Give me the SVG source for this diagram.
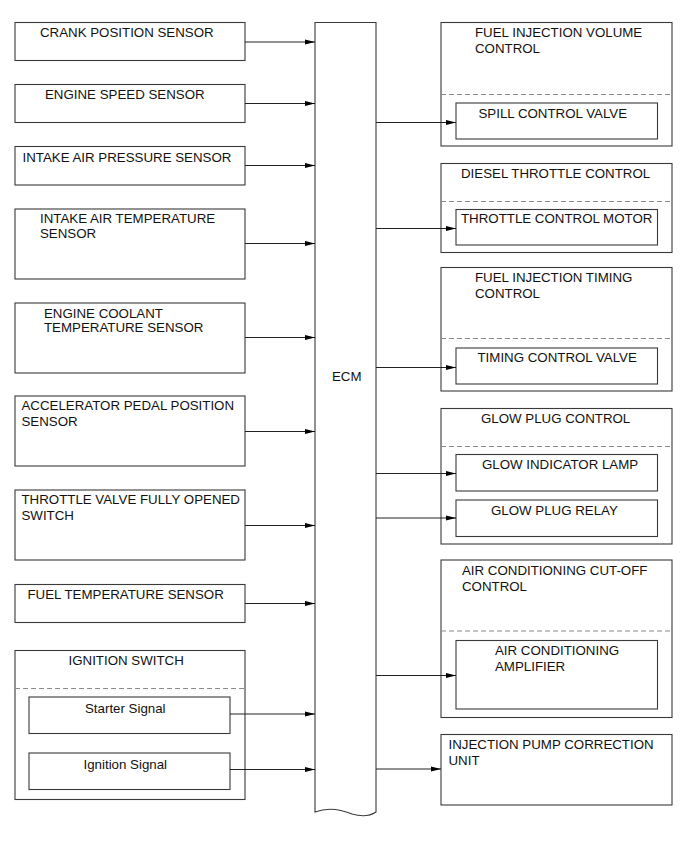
<svg xmlns="http://www.w3.org/2000/svg" width="690" height="855" viewBox="0 0 690 855">
<style>
.b{fill:#fff;stroke:#3a3a3a;stroke-width:1.1}
.d{stroke:#8a8a8a;stroke-width:1;stroke-dasharray:5,3;fill:none}
.c{stroke:#222;stroke-width:1;fill:none;marker-end:url(#ah)}
text{font-family:"Liberation Sans",Arial,sans-serif;font-size:13.3px;fill:#111}
</style>
<defs>
<marker id="ah" markerWidth="10" markerHeight="6" refX="10" refY="3" orient="auto" markerUnits="userSpaceOnUse">
<path d="M0,0.5 L10,3 L0,5.5 Z" fill="#000"/>
</marker>
</defs>
<rect width="690" height="855" fill="#fff"/>

<g id="ecm">
<path class="b" d="M315,812 L315,22.5 L376,22.5 L376,812 C370,816 362,817 352,814 C340,809 328,807 315,812 Z"/>
<text x="332" y="381">ECM</text>
</g>

<g id="crank"><rect class="b" x="15" y="22.5" width="230" height="38"/><text x="40" y="37">CRANK POSITION SENSOR</text></g>
<g id="speed"><rect class="b" x="15" y="84.5" width="230" height="38"/><text x="45" y="99">ENGINE SPEED SENSOR</text></g>
<g id="iap"><rect class="b" x="15" y="146.5" width="230" height="38.5"/><text x="22.5" y="161.5">INTAKE AIR PRESSURE SENSOR</text></g>
<g id="iat"><rect class="b" x="15" y="209" width="230" height="70"/><text x="40" y="223">INTAKE AIR TEMPERATURE</text><text x="40" y="238">SENSOR</text></g>
<g id="ect"><rect class="b" x="15" y="303" width="230" height="70"/><text x="44" y="317.5">ENGINE COOLANT</text><text x="44" y="332">TEMPERATURE SENSOR</text></g>
<g id="app"><rect class="b" x="15" y="396" width="230" height="70"/><text x="21.5" y="410">ACCELERATOR PEDAL POSITION</text><text x="21.5" y="426">SENSOR</text></g>
<g id="tvfo"><rect class="b" x="15" y="490" width="230" height="70"/><text x="21.5" y="504">THROTTLE VALVE FULLY OPENED</text><text x="21.5" y="520">SWITCH</text></g>
<g id="fts"><rect class="b" x="15" y="584.5" width="230" height="38"/><text x="27.5" y="599">FUEL TEMPERATURE SENSOR</text></g>
<g id="ign">
<rect class="b" x="15" y="650.5" width="230" height="149"/>
<text x="68.5" y="665">IGNITION SWITCH</text>
<line class="d" x1="15" y1="688.5" x2="245" y2="688.5"/>
<g id="starter"><rect class="b" x="29" y="697" width="201" height="36.5"/><text x="85" y="712.5">Starter Signal</text></g>
<g id="ignsig"><rect class="b" x="29" y="753" width="201" height="36.5"/><text x="83.5" y="768.5">Ignition Signal</text></g>
</g>

<g id="fivc">
<rect class="b" x="441" y="22.5" width="231" height="123.5"/>
<text x="475" y="37">FUEL INJECTION VOLUME</text><text x="475" y="53">CONTROL</text>
<line class="d" x1="441" y1="94.5" x2="672" y2="94.5"/>
<g id="spill"><rect class="b" x="456" y="103" width="201.5" height="36"/><text x="478.5" y="117.5">SPILL CONTROL VALVE</text></g>
</g>
<g id="dtc">
<rect class="b" x="441" y="163.5" width="231" height="89"/>
<text x="461" y="178">DIESEL THROTTLE CONTROL</text>
<line class="d" x1="441" y1="201.5" x2="672" y2="201.5"/>
<g id="tcm"><rect class="b" x="456" y="209.5" width="201.5" height="35.5"/><text x="461" y="223">THROTTLE CONTROL MOTOR</text></g>
</g>
<g id="fitc">
<rect class="b" x="441" y="267.5" width="231" height="123.5"/>
<text x="475" y="282">FUEL INJECTION TIMING</text><text x="475" y="298">CONTROL</text>
<line class="d" x1="441" y1="338.5" x2="672" y2="338.5"/>
<g id="tcv"><rect class="b" x="456" y="348" width="201.5" height="36"/><text x="477.5" y="361.5">TIMING CONTROL VALVE</text></g>
</g>
<g id="gpc">
<rect class="b" x="441" y="408.5" width="231" height="135.5"/>
<text x="481" y="423">GLOW PLUG CONTROL</text>
<line class="d" x1="441" y1="446.5" x2="672" y2="446.5"/>
<g id="gil"><rect class="b" x="456" y="454.5" width="201.5" height="36.5"/><text x="482" y="469">GLOW INDICATOR LAMP</text></g>
<g id="gpr"><rect class="b" x="456" y="500" width="201.5" height="36.5"/><text x="491" y="515">GLOW PLUG RELAY</text></g>
</g>
<g id="accoc">
<rect class="b" x="441" y="560" width="231" height="157.5"/>
<text x="462" y="575">AIR CONDITIONING CUT-OFF</text><text x="462" y="590.5">CONTROL</text>
<line class="d" x1="441" y1="631" x2="672" y2="631"/>
<g id="aca"><rect class="b" x="456" y="640.5" width="201.5" height="68.5"/><text x="495" y="655">AIR CONDITIONING</text><text x="495" y="671">AMPLIFIER</text></g>
</g>
<g id="ipcu"><rect class="b" x="441" y="734.5" width="231" height="70.5"/><text x="448.5" y="749">INJECTION PUMP CORRECTION</text><text x="448.5" y="764.5">UNIT</text></g>

<g id="connectors">
<line class="c" x1="245" y1="42" x2="315" y2="42"/>
<line class="c" x1="245" y1="103.5" x2="315" y2="103.5"/>
<line class="c" x1="245" y1="165.5" x2="315" y2="165.5"/>
<line class="c" x1="245" y1="243.5" x2="315" y2="243.5"/>
<line class="c" x1="245" y1="337.5" x2="315" y2="337.5"/>
<line class="c" x1="245" y1="431.5" x2="315" y2="431.5"/>
<line class="c" x1="245" y1="525.5" x2="315" y2="525.5"/>
<line class="c" x1="245" y1="603.5" x2="315" y2="603.5"/>
<line class="c" x1="230" y1="714" x2="315" y2="714"/>
<line class="c" x1="230" y1="769.5" x2="315" y2="769.5"/>
<line class="c" x1="376" y1="122.5" x2="456" y2="122.5"/>
<line class="c" x1="376" y1="228.5" x2="456" y2="228.5"/>
<line class="c" x1="376" y1="367.5" x2="456" y2="367.5"/>
<line class="c" x1="376" y1="473.5" x2="456" y2="473.5"/>
<line class="c" x1="376" y1="518" x2="456" y2="518"/>
<line class="c" x1="376" y1="675.5" x2="456" y2="675.5"/>
<line class="c" x1="376" y1="769" x2="441" y2="769"/>
</g>
</svg>
